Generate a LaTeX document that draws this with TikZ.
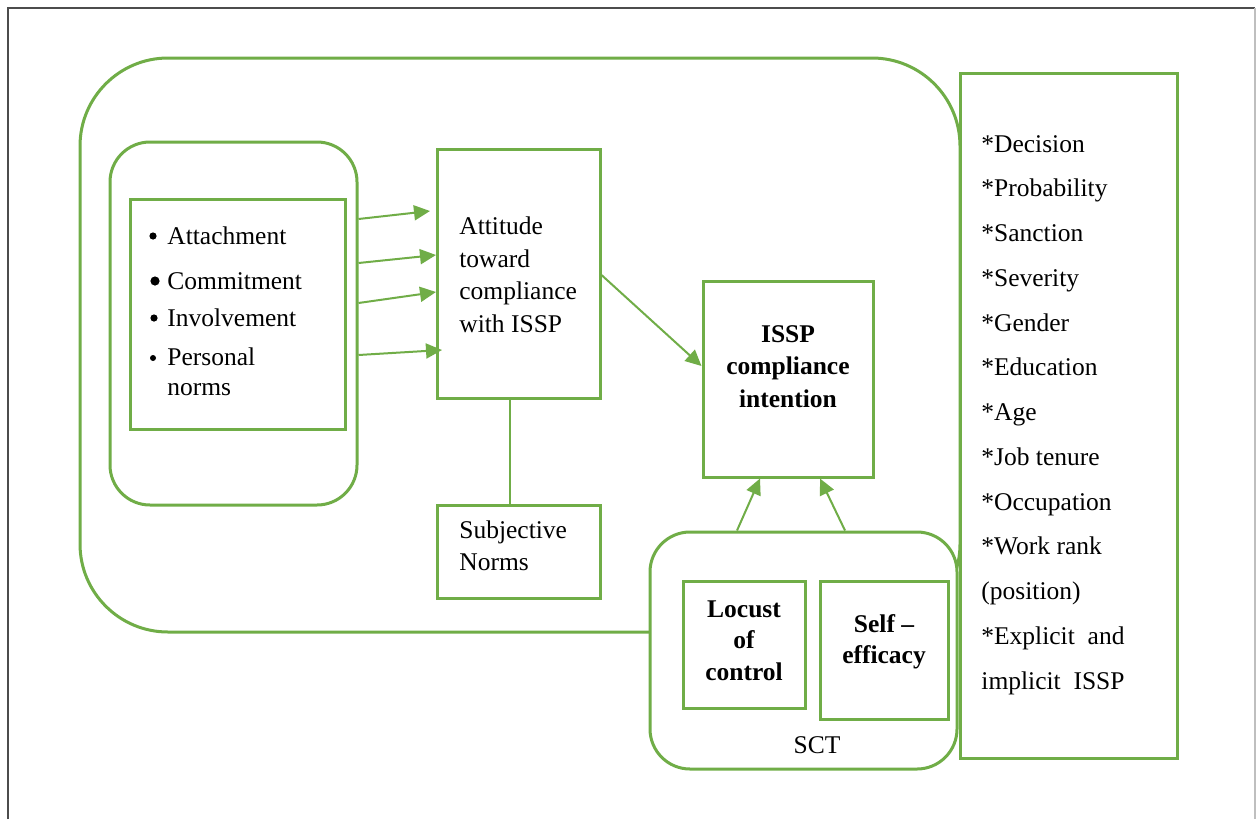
\documentclass[tikz,border=0pt]{standalone}
\usepackage{fontspec}
\setmainfont{Liberation Serif}
\usetikzlibrary{arrows.meta,fit}
\definecolor{grn}{RGB}{112,173,71}
\begin{document}
\begin{tikzpicture}[x=0.5pt,y=-0.5pt,
 box/.style={draw=grn,line width=1.5pt,inner sep=0pt,fill=white},
 rbox/.style={box,rounded corners=20pt},
 conn/.style={draw=grn,line width=1pt},
 arr/.style={conn,-{Triangle[length=8pt,width=7.5pt]}},
 txt/.style={inner sep=0pt,font=\fontsize{12.75}{15}\selectfont},
 lt/.style={txt,anchor=base west},
 bt/.style={inner sep=0pt,anchor=base,font=\fontsize{12.75}{15}\selectfont\bfseries},
 ct/.style={txt,anchor=base},
 bul/.style={fill=black}
]
\useasboundingbox (0,0) rectangle (1256,819);
% frame
\draw[line width=1pt,black!70] (8,819) -- (8,8) -- (1255,8);
\draw[line width=1pt,black!25] (1255,8) -- (1255,819);

% boxes
\node[box,rounded corners=44pt,fit={(80,58)(960,632)}] (outer) {};
\node[rbox,fit={(110,142)(357,505)}] (lbox) {};
\node[box,fit={(130,199)(345,429)}] (list) {};
\node[box,fit={(437,149)(600,398)}] (att) {};
\node[box,fit={(437,505)(600,598)}] (subj) {};
\node[box,fit={(703,281)(873,477)}] (issp) {};
\node[box,fit={(960,73)(1177,758)}] (ctrl) {};
\node[rbox,fit={(650,532)(957,769)}] (sct) {};
\node[box,fit={(683,581)(805,708)}] (loc) {};
\node[box,fit={(820,581)(948,719)}] (self) {};

% list text
\fill[bul] (153,236) circle (3.6);
\fill[bul] (155,281) circle (4.6);
\fill[bul] (154,318) circle (3.6);
\fill[bul] (153,358) circle (3.0);
\node[lt] (l1) at (167,244) {Attachment};
\node[lt] (l2) at (167,289) {Commitment};
\node[lt] (l3) at (167,326) {Involvement};
\node[lt] (l4) at (167,365) {Personal};
\node[lt] (l5) at (167,395) {norms};

% attitude text
\node[lt] (at1) at (459,234) {Attitude};
\node[lt] (at2) at (459,267) {toward};
\node[lt] (at3) at (459,299) {compliance};
\node[lt] (at4) at (459,332) {with ISSP};

% subjective norms
\node[lt] (sn1) at (459,538) {Subjective};
\node[lt] (sn2) at (459,570) {Norms};

% ISSP
\node[bt] (is1) at (788,342) {ISSP};
\node[bt] (is2) at (788,374) {compliance};
\node[bt] (is3) at (788,407) {intention};

% locus / self
\node[bt] (lc1) at (744,617) {Locust};
\node[bt] (lc2) at (744,648) {of};
\node[bt] (lc3) at (744,680) {control};
\node[bt] (sf1) at (884,632) {Self --};
\node[bt] (sf2) at (884,663) {efficacy};
\node[ct] (sctl) at (817,753) {SCT};

% right list
\foreach \t [count=\i from 0] in {*Decision,*Probability,*Sanction,*Severity,*Gender,*Education,*Age,*Job tenure,*Occupation,*Work rank,(position),*Explicit\ \ and,implicit\ \ ISSP}
  \node[lt] (r\i) at (981,{152+44.75*\i}) {\t};

% connectors
\coordinate (y1) at (0,219); \coordinate (e1) at (430,211);
\coordinate (y2) at (0,263); \coordinate (e2) at (436,255);
\coordinate (y3) at (0,303); \coordinate (e3) at (436,292);
\coordinate (y4) at (0,355); \coordinate (e4) at (442,350);
\draw[arr] (lbox.east |- y1) -- (e1);
\draw[arr] (lbox.east |- y2) -- (e2);
\draw[arr] (lbox.east |- y3) -- (e3);
\draw[arr] (lbox.east |- y4) -- (e4);

\coordinate (sv) at (510,0);
\draw[conn] (att.south -| sv) -- (subj.north -| sv);

\coordinate (y5) at (0,275); \coordinate (y6) at (0,366);
\draw[arr] (att.east |- y5) -- (issp.west |- y6);

\coordinate (x1) at (737,0); \coordinate (x2) at (760,0);
\coordinate (x3) at (845,0); \coordinate (x4) at (820,0);
\draw[arr] (sct.north -| x1) -- (issp.south -| x2);
\draw[arr] (sct.north -| x3) -- (issp.south -| x4);
\end{tikzpicture}
\end{document}
